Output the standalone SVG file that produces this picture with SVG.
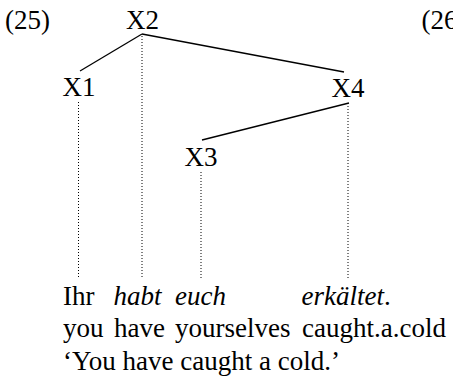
<svg xmlns="http://www.w3.org/2000/svg" width="453" height="380" viewBox="0 0 453 380">
<style>
text{font-family:"Liberation Serif","Times New Roman",serif;font-size:27px;fill:#000}
.it{font-style:italic}
.edge{stroke:#000;stroke-width:1.3;fill:none}
.dot{stroke:#000;stroke-width:1;stroke-dasharray:1 2;fill:none}
</style>
<rect width="453" height="380" fill="#fff"/>
<text x="5" y="29">(25)</text>
<text x="421.5" y="29">(26)</text>
<g id="connectors">
<line class="edge" x1="142" y1="34" x2="80" y2="71"/>
<line class="edge" x1="142" y1="34" x2="344" y2="72"/>
<line class="edge" x1="349" y1="103" x2="202" y2="140"/>
<line class="dot" x1="142" y1="36" x2="142" y2="278"/>
<line class="dot" x1="78.5" y1="102" x2="78.5" y2="278"/>
<line class="dot" x1="348" y1="106" x2="348" y2="278"/>
<line class="dot" x1="201" y1="172" x2="201" y2="278"/>
</g>
<g id="X2"><text x="142.5" y="29" text-anchor="middle">X2</text></g>
<g id="X1"><text x="79" y="96" text-anchor="middle">X1</text></g>
<g id="X4"><text x="348" y="96.5" text-anchor="middle">X4</text></g>
<g id="X3"><text x="201" y="166" text-anchor="middle">X3</text></g>
<g id="gloss">
<text x="63" y="305">Ihr</text>
<text x="113.5" y="305" class="it">habt</text>
<text x="175" y="305" class="it">euch</text>
<text x="301.5" y="305"><tspan class="it">erkältet</tspan>.</text>
<text x="63" y="337">you</text>
<text x="114" y="337">have</text>
<text x="175" y="337">yourselves</text>
<text x="302" y="337">caught.a.cold</text>
<text x="63" y="370">‘You have caught a cold.’</text>
</g>
</svg>
